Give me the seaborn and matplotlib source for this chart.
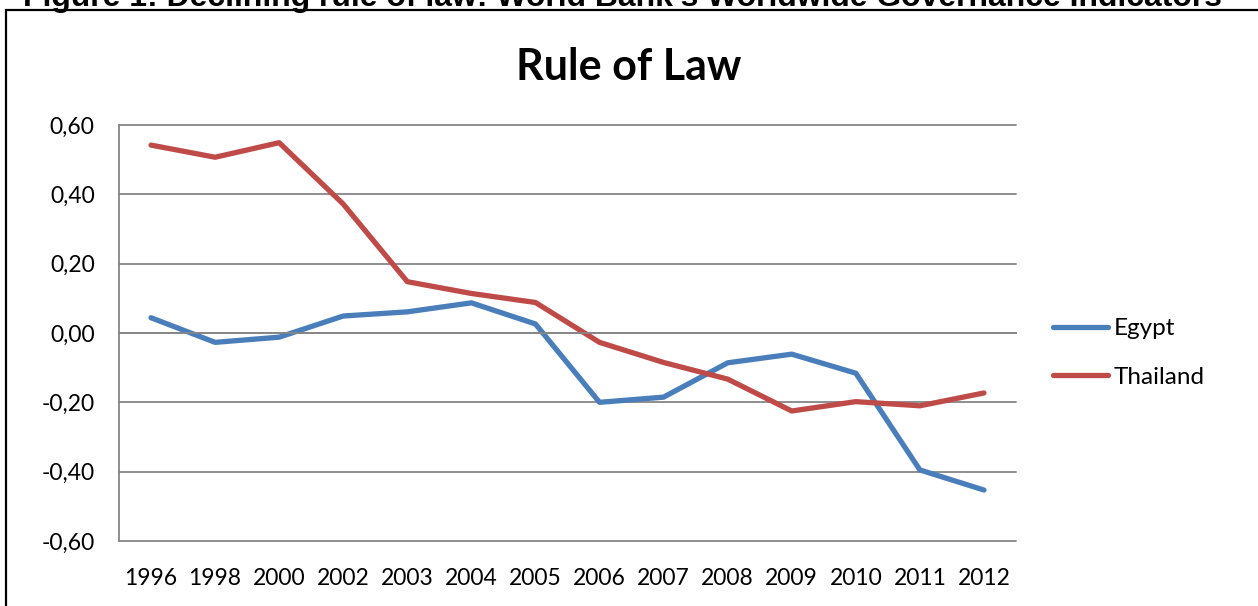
import matplotlib
matplotlib.use("Agg")
import matplotlib.pyplot as plt
import matplotlib.patches as mpatches
from matplotlib.ticker import FixedLocator, FixedFormatter
import seaborn as sns
import pandas as pd

# ---- data ----
years = ["1996", "1998", "2000", "2002", "2003", "2004", "2005",
         "2006", "2007", "2008", "2009", "2010", "2011", "2012"]
egypt = [0.044, -0.027, -0.012, 0.049, 0.061, 0.087, 0.026,
         -0.200, -0.185, -0.086, -0.061, -0.116, -0.395, -0.453]
thailand = [0.542, 0.507, 0.549, 0.372, 0.148, 0.114, 0.088,
            -0.027, -0.085, -0.133, -0.225, -0.198, -0.210, -0.173]
series_names = ["Egypt", "Thailand"]
y_ticks = [-0.60, -0.40, -0.20, 0.00, 0.20, 0.40, 0.60]
y_tick_labels = ["-0,60", "-0,40", "-0,20", "0,00", "0,20", "0,40", "0,60"]
title = "Rule of Law"
caption = "Figure 1: Declining rule of law: World Bank\u2019s Worldwide Governance Indicators"

df = pd.DataFrame({
    "year": years * 2,
    "value": egypt + thailand,
    "country": [series_names[0]] * len(years) + [series_names[1]] * len(years),
})

sns.set_theme(style="white")
plt.rcParams["font.family"] = ["Lato", "DejaVu Sans"]
plt.rcParams["text.color"] = "black"

W, H = 1258, 606
fig = plt.figure(figsize=(W / 100, H / 100), dpi=100)
fig.patch.set_facecolor("white")

left, right, top, bottom = 119, 1016, 125, 541
ax = fig.add_axes([left / W, 1 - bottom / H, (right - left) / W, (bottom - top) / H])

palette = {"Egypt": "#4A7EBB", "Thailand": "#BE4B48"}
sns.lineplot(data=df, x="year", y="value", hue="country", palette=palette,
             linewidth=3.8, ax=ax, sort=False, solid_capstyle="round")

grid_c = "#868686"
ax.set_xlim(-0.5, len(years) - 0.5)
ax.set_ylim(-0.6, 0.6)
ax.yaxis.set_major_locator(FixedLocator(y_ticks))
ax.yaxis.set_major_formatter(FixedFormatter(y_tick_labels))
ax.grid(axis="y", color=grid_c, linewidth=1.3)
ax.grid(axis="x", visible=False)
for gl in ax.get_ygridlines():
    gl.set_clip_on(False)
ax.set_axisbelow(True)

for s in ["top", "right"]:
    ax.spines[s].set_visible(False)
ax.spines["left"].set_color(grid_c)
ax.spines["left"].set_linewidth(1.3)
ax.spines["bottom"].set_position(("data", 0))
ax.spines["bottom"].set_color(grid_c)
ax.spines["bottom"].set_linewidth(1.3)

ax.tick_params(axis="y", which="major", direction="out", length=6.5, width=1.3,
               color=grid_c, pad=11, labelsize=16.5, labelcolor="black")
ax.set_xticks(range(len(years)))
ax.set_xticklabels(years)
ax.set_xticks([i - 0.5 for i in range(len(years) + 1)], minor=True)
ax.tick_params(axis="x", which="major", length=0, pad=169, labelsize=16.5,
               labelcolor="black")
ax.tick_params(axis="x", which="minor", direction="out", length=4.5, width=1.3,
               color=grid_c)
ax.set_xlabel("")
ax.set_ylabel("")

# legend
handles, labels = ax.get_legend_handles_labels()
leg = ax.legend(handles=handles, labels=labels, loc="center left",
                bbox_to_anchor=(1053 / W, 1 - 353 / H), bbox_transform=fig.transFigure,
                frameon=False, fontsize=17.5, handlelength=2.25, handletextpad=0.25,
                labelspacing=1.15, borderaxespad=0, borderpad=0)
for t in leg.get_texts():
    t.set_color("black")

# title
fig.text(628.5 / W, 1 - 80 / H, title, ha="center", va="baseline",
         fontsize=31, fontweight="bold", color="black")

# outer frame
fig.add_artist(mpatches.Rectangle((6 / W, -0.2), 1.2, 1.2 - 10 / H,
                                  transform=fig.transFigure, fill=False,
                                  edgecolor="black", linewidth=1.6, clip_on=False))

# caption partly cropped at the top edge, as in the reference
cap = fig.text(23 / W, 1 - 6 / H, caption, ha="left", va="baseline",
               fontsize=19, fontweight="bold", color="black",
               family=["Liberation Sans", "DejaVu Sans"])
fig.canvas.draw()
w = cap.get_window_extent(renderer=fig.canvas.get_renderer()).width
cap.set_fontsize(19 * 1200 / w)

fig.savefig("out.png", dpi=100, facecolor="white")
